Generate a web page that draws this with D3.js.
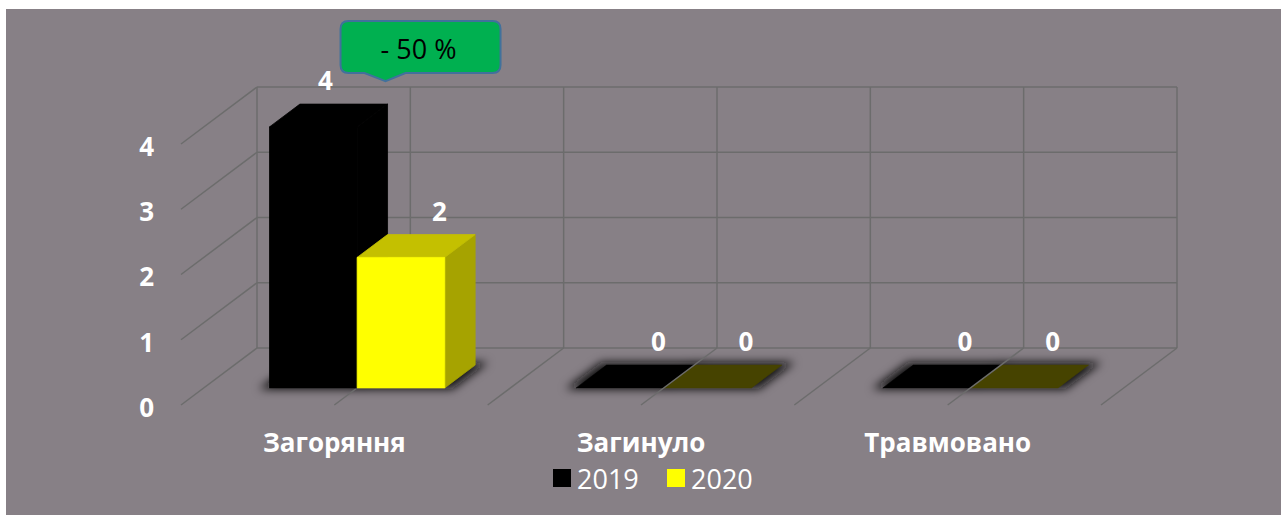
<!DOCTYPE html>
<html>
<head>
<meta charset="utf-8">
<script src="https://cdn.jsdelivr.net/npm/d3@7"></script>
<style>
  html, body { margin: 0; padding: 0; background: #ffffff; }
  svg { display: block; }
</style>
</head>
<body>
<svg id="chart" width="1281" height="515"></svg>
<script>
// ---- data ----
const categories = ["Загоряння", "Загинуло", "Травмовано"];
const seriesNames = ["2019", "2020"];
const values2019 = [4, 0, 0];
const values2020 = [2, 0, 0];
const yTicks = [0, 1, 2, 3, 4];
const calloutText = "- 50 %";

// ---- look ----
const W = 1281, H = 515;
const BG = "#878086";
const GRID = "#6c6c6c";
const FONT = "'Open Sans', Lato, sans-serif";
const seriesStyle = {
  "2019": { front: "#000000", top: "#000000", side: "#000000", flat: "#000000" },
  "2020": { front: "#ffff00", top: "#c4c000", side: "#a6a300", flat: "#464300" }
};

// oblique depth: going from the front plane (z=0) to the back wall (z=1)
const DX = 76, DY = 57;
const BAR_Z0 = 0.3, BAR_Z1 = 0.7;

const svg = d3.select("#chart");

// chart area
svg.append("rect").attr("x", 6).attr("y", 9).attr("width", W - 6).attr("height", H - 9).attr("fill", BG);

const defs = svg.append("defs");
defs.append("filter").attr("id", "soft")
  .attr("x", "-50%").attr("y", "-100%").attr("width", "200%").attr("height", "300%")
  .append("feGaussianBlur").attr("stdDeviation", 5);

// scales (front plane)
const yScale = d3.scaleLinear().domain([0, d3.max(yTicks)]).range([405, 144]);
const x0 = d3.scaleBand().domain(categories).range([181, 1101]).padding(0);
const x1 = d3.scaleBand().domain(seriesNames).range([0, x0.bandwidth()]).paddingInner(0).paddingOuter(0.75);

const P = (x, v, z) => [x + z * DX, yScale(v) - z * DY];
const poly = pts => "M" + pts.map(p => p.join(",")).join("L") + "Z";

// ---- walls & floor grid ----
const gWalls = svg.append("g").attr("stroke", GRID).attr("stroke-width", 1.5).attr("fill", "none");
const xLeft = x0.range()[0], xRight = x0.range()[1];
const vLines = [];
categories.forEach(c => { vLines.push(x0(c)); vLines.push(x0(c) + x0.bandwidth() / 2); });
vLines.push(xRight);

// back wall horizontals and left wall diagonals
yTicks.forEach(t => {
  gWalls.append("path").attr("d", "M" + P(xLeft, t, 1) + "L" + P(xRight, t, 1));
  if (t > 0) gWalls.append("path").attr("d", "M" + P(xLeft, t, 1) + "L" + P(xLeft, t, 0));
});
// back wall verticals
vLines.forEach(x => {
  gWalls.append("path").attr("d", "M" + P(x, 0, 1) + "L" + P(x, d3.max(yTicks), 1));
});

// ---- bars ----
const rows = [];
categories.forEach((c, i) => {
  [values2019[i], values2020[i]].forEach((v, j) => {
    rows.push({ cat: c, series: seriesNames[j], value: v, x: x0(c) + x1(seriesNames[j]), w: x1.bandwidth() });
  });
});

// soft shadows under each bar footprint
const gShadow = svg.append("g").attr("filter", "url(#soft)");
rows.forEach(d => {
  const e = 9;
  const pts = [P(d.x - e, 0, BAR_Z0 - 0.02), P(d.x + d.w + e, 0, BAR_Z0 - 0.02),
               P(d.x + d.w + e, 0, BAR_Z1 + 0.05), P(d.x - e, 0, BAR_Z1 + 0.05)];
  gShadow.append("path").attr("d", poly(pts)).attr("fill", "#0e0e0e").attr("opacity", 0.95);
});

// zero-height bars lie flat on the floor under the floor grid
const gFlat = svg.append("g");
rows.filter(d => d.value === 0).forEach(d => {
  const s = seriesStyle[d.series];
  gFlat.append("path")
    .attr("d", poly([P(d.x, 0, BAR_Z0), P(d.x + d.w, 0, BAR_Z0), P(d.x + d.w, 0, BAR_Z1), P(d.x, 0, BAR_Z1)]))
    .attr("fill", s.flat).attr("stroke", s.flat).attr("stroke-width", 0.6);
});

// floor diagonals
const gFloor = svg.append("g").attr("stroke", GRID).attr("stroke-width", 1.5).attr("fill", "none");
vLines.forEach(x => {
  gFloor.append("path").attr("d", "M" + P(x, 0, 1) + "L" + P(x, 0, 0));
});

// raised bars
const gBars = svg.append("g").attr("stroke-width", 0.8).attr("stroke-linejoin", "round");
rows.filter(d => d.value > 0).forEach(d => {
  const s = seriesStyle[d.series];
  const xl = d.x, xr = d.x + d.w, v = d.value;
  gBars.append("path").attr("fill", s.side).attr("stroke", s.side)
    .attr("d", poly([P(xr, 0, BAR_Z0), P(xr, 0, BAR_Z1), P(xr, v, BAR_Z1), P(xr, v, BAR_Z0)]));
  gBars.append("path").attr("fill", s.top).attr("stroke", s.top)
    .attr("d", poly([P(xl, v, BAR_Z0), P(xr, v, BAR_Z0), P(xr, v, BAR_Z1), P(xl, v, BAR_Z1)]));
  gBars.append("path").attr("fill", s.front).attr("stroke", s.front)
    .attr("d", poly([P(xl, 0, BAR_Z0), P(xr, 0, BAR_Z0), P(xr, v, BAR_Z0), P(xl, v, BAR_Z0)]));
});

// ---- callout on the first category ----
const first = rows[0];
const tip = P(first.x + first.w, first.value, BAR_Z1);
const cw = 160, ch = 52, r = 8;
const cx = tip[0] - 47, cy = tip[1] - 83;
const tipX = tip[0] - 2, tipY = tip[1] - 23;
const gCall = svg.append("g");
gCall.append("path")
  .attr("d", `M${cx + r},${cy} H${cx + cw - r} Q${cx + cw},${cy} ${cx + cw},${cy + r} V${cy + ch - r} Q${cx + cw},${cy + ch} ${cx + cw - r},${cy + ch}
              H${tipX + 20} L${tipX},${tipY} L${tipX - 21},${cy + ch} H${cx + r} Q${cx},${cy + ch} ${cx},${cy + ch - r} V${cy + r} Q${cx},${cy} ${cx + r},${cy} Z`)
  .attr("fill", "#00b050").attr("stroke", "#41719c").attr("stroke-width", 2);
gCall.append("text").attr("x", cx + cw / 2 - 2).attr("y", cy + ch / 2 + 1)
  .attr("text-anchor", "middle").attr("dominant-baseline", "central")
  .attr("font-family", FONT).attr("font-size", 27).attr("fill", "#000").text(calloutText);

// ---- value labels ----
const gLabels = svg.append("g").attr("font-family", FONT).attr("font-weight", "bold")
  .attr("font-size", 26).attr("fill", "#ffffff").attr("text-anchor", "middle");
rows.forEach(d => {
  const top = P(d.x + d.w / 2, d.value, BAR_Z1);
  let lx = top[0] + 8;
  const ly = top[1] - 24;
  // keep the label clear of the callout box
  if (lx + 8 > cx && lx - 8 < cx + cw && ly - 10 < cy + ch) lx = cx - 15;
  gLabels.append("text").attr("x", lx).attr("y", ly).attr("dominant-baseline", "central").text(d.value);
});

// ---- axes ----
const yAxis = svg.append("g").attr("transform", "translate(154,2)")
  .call(d3.axisLeft(yScale).tickValues(yTicks).tickSize(0).tickPadding(0).tickFormat(d3.format("d")));
yAxis.select(".domain").remove();
yAxis.selectAll("text").attr("font-family", FONT).attr("font-weight", "bold").attr("font-size", 26)
  .attr("fill", "#ffffff").attr("dy", "0.36em");

const xAxis = svg.append("g").attr("transform", "translate(0,434)")
  .call(d3.axisBottom(x0).tickSize(0).tickPadding(0));
xAxis.select(".domain").remove();
xAxis.selectAll("text").attr("font-family", FONT).attr("font-weight", "bold").attr("font-size", 26)
  .attr("fill", "#ffffff");

// ---- legend ----
const legend = svg.append("g").attr("font-family", FONT).attr("font-size", 27).attr("fill", "#ffffff");
const legendX = d3.scalePoint().domain(seriesNames).range([553, 667]);
seriesNames.forEach(s => {
  const lx = legendX(s);
  legend.append("rect").attr("x", lx).attr("y", 469).attr("width", 18).attr("height", 18)
    .attr("fill", seriesStyle[s].front);
  legend.append("text").attr("x", lx + 24).attr("y", 478).attr("dominant-baseline", "central").text(s);
});
</script>
</body>
</html>
